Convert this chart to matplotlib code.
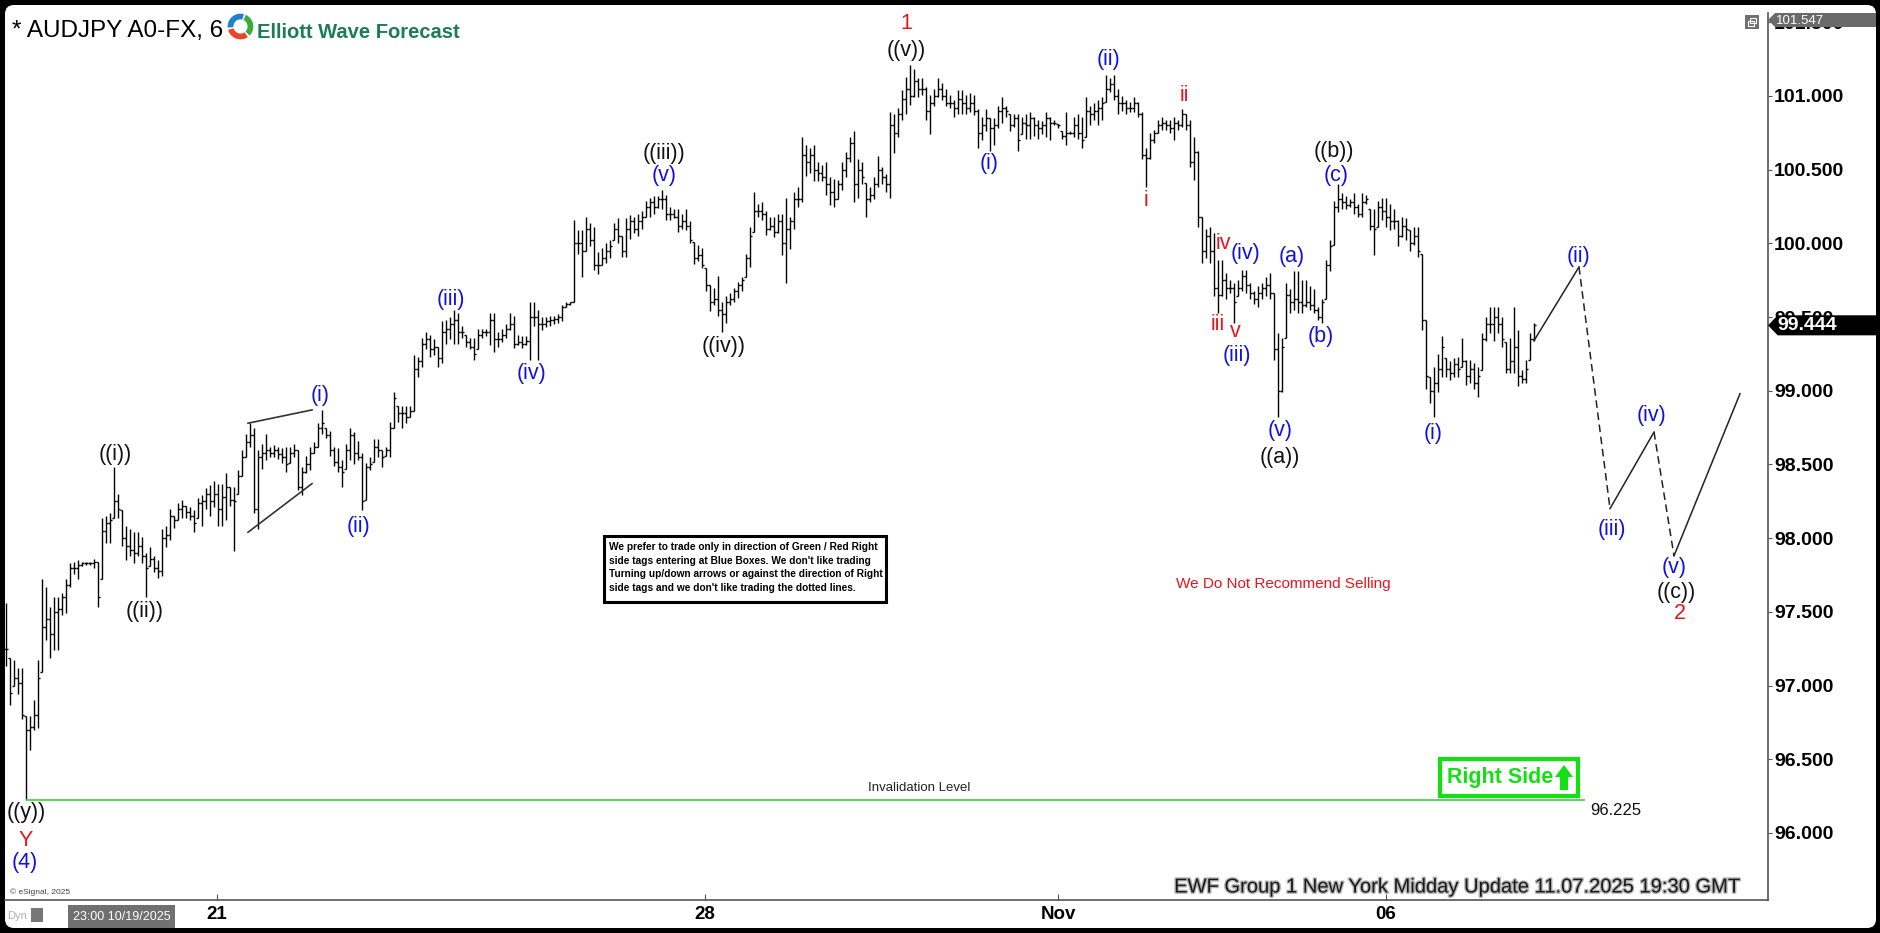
import numpy as np
import matplotlib
matplotlib.use("Agg")
import matplotlib.pyplot as plt
from matplotlib.patches import FancyBboxPatch, Rectangle, Polygon, Wedge
import matplotlib.patheffects as pe

plt.rcParams['font.family'] = ['Liberation Sans', 'DejaVu Sans']
NARROW = ['Liberation Sans Narrow', 'Liberation Sans', 'DejaVu Sans']

# AUDJPY 60 min bars (high / low / close)
highs = [
    97.56, 97.19, 97.17, 97.12, 97.12, 96.79, 96.79, 96.90, 97.17, 97.72,
    97.67, 97.53, 97.60, 97.60, 97.63, 97.72, 97.83, 97.84, 97.85, 97.84,
    97.84, 97.84, 97.86, 97.84, 98.14, 98.15, 98.17, 98.48, 98.30, 98.19,
    98.08, 98.06, 98.04, 98.04, 98.01, 97.90, 97.94, 97.88, 97.85, 98.06,
    98.08, 98.20, 98.15, 98.24, 98.26, 98.22, 98.21, 98.19, 98.27, 98.29,
    98.34, 98.36, 98.39, 98.37, 98.37, 98.44, 98.35, 98.35, 98.46, 98.60,
    98.71, 98.78, 98.75, 98.60, 98.64, 98.71, 98.62, 98.63, 98.62, 98.61,
    98.62, 98.62, 98.64, 98.60, 98.48, 98.56, 98.62, 98.65, 98.78, 98.87,
    98.75, 98.73, 98.62, 98.61, 98.53, 98.64, 98.75, 98.72, 98.66, 98.58,
    98.51, 98.55, 98.67, 98.67, 98.60, 98.62, 98.79, 98.99, 98.90, 98.90,
    98.90, 98.90, 99.24, 99.23, 99.36, 99.40, 99.38, 99.35, 99.30, 99.47,
    99.48, 99.50, 99.55, 99.53, 99.44, 99.38, 99.36, 99.36, 99.42, 99.42,
    99.42, 99.53, 99.53, 99.40, 99.42, 99.45, 99.53, 99.51, 99.38, 99.37,
    99.37, 99.60, 99.60, 99.55, 99.50, 99.50, 99.51, 99.51, 99.52, 99.58,
    99.60, 99.60, 100.16, 100.09, 100.09, 100.18, 100.14, 100.11, 99.94, 99.97,
    100.00, 100.02, 100.14, 100.17, 100.05, 100.17, 100.19, 100.18, 100.20, 100.22,
    100.29, 100.31, 100.32, 100.32, 100.36, 100.33, 100.25, 100.23, 100.23, 100.20,
    100.23, 100.15, 100.01, 99.99, 99.97, 99.83, 99.72, 99.70, 99.78, 99.60,
    99.64, 99.66, 99.70, 99.74, 99.77, 99.93, 100.11, 100.35, 100.27, 100.28,
    100.22, 100.18, 100.18, 100.20, 100.20, 100.31, 100.18, 100.35, 100.38, 100.72,
    100.67, 100.65, 100.67, 100.55, 100.53, 100.55, 100.45, 100.44, 100.43, 100.55,
    100.62, 100.72, 100.76, 100.57, 100.55, 100.41, 100.38, 100.45, 100.59, 100.52,
    100.47, 100.89, 100.88, 100.92, 101.04, 101.13, 101.21, 101.18, 101.12, 101.12,
    101.06, 101.01, 101.05, 101.12, 101.09, 101.05, 101.01, 100.97, 101.04, 101.04,
    101.01, 101.02, 101.01, 100.91, 100.86, 100.91, 100.85, 100.85, 100.93, 100.99,
    100.93, 100.88, 100.88, 100.88, 100.86, 100.88, 100.89, 100.86, 100.84, 100.83,
    100.89, 100.86, 100.84, 100.81, 100.76, 100.89, 100.76, 100.86, 100.88, 100.86,
    100.99, 100.93, 100.95, 100.97, 100.99, 101.14, 101.12, 101.14, 101.05, 101.00,
    100.97, 100.96, 100.99, 100.96, 100.89, 100.65, 100.75, 100.77, 100.84, 100.86,
    100.84, 100.84, 100.86, 100.84, 100.91, 100.88, 100.84, 100.72, 100.63, 100.18,
    100.10, 100.11, 100.07, 99.89, 99.89, 99.80, 99.75, 99.73, 99.75, 99.82,
    99.82, 99.73, 99.68, 99.71, 99.73, 99.77, 99.80, 99.66, 99.39, 99.36,
    99.73, 99.69, 99.81, 99.81, 99.75, 99.75, 99.71, 99.69, 99.57, 99.62,
    99.89, 100.02, 100.29, 100.40, 100.34, 100.32, 100.30, 100.34, 100.27, 100.34,
    100.33, 100.23, 100.23, 100.29, 100.31, 100.31, 100.27, 100.23, 100.16, 100.18,
    100.17, 100.09, 100.11, 100.11, 99.93, 99.48, 99.09, 99.16, 99.25, 99.37,
    99.22, 99.20, 99.22, 99.23, 99.36, 99.21, 99.21, 99.19, 99.16, 99.39,
    99.50, 99.57, 99.57, 99.57, 99.50, 99.33, 99.36, 99.57, 99.41, 99.14,
    99.21, 99.39, 99.46,
]
lows = [
    97.13, 96.87, 97.00, 96.94, 96.77, 96.225, 96.56, 96.70, 96.71, 97.09,
    97.31, 97.19, 97.24, 97.24, 97.48, 97.49, 97.67, 97.76, 97.72, 97.81,
    97.82, 97.82, 97.80, 97.53, 97.72, 97.97, 97.97, 98.14, 98.14, 97.95,
    97.85, 97.88, 97.83, 97.88, 97.83, 97.60, 97.81, 97.77, 97.73, 97.74,
    97.94, 97.99, 98.07, 98.12, 98.14, 98.14, 98.12, 98.04, 98.14, 98.08,
    98.20, 98.15, 98.21, 98.08, 98.08, 98.12, 98.22, 97.91, 98.30, 98.42,
    98.55, 98.62, 98.17, 98.06, 98.47, 98.53, 98.55, 98.55, 98.54, 98.51,
    98.45, 98.51, 98.55, 98.33, 98.29, 98.44, 98.46, 98.58, 98.62, 98.71,
    98.68, 98.56, 98.49, 98.45, 98.35, 98.47, 98.53, 98.50, 98.53, 98.19,
    98.26, 98.46, 98.52, 98.55, 98.48, 98.56, 98.55, 98.75, 98.79, 98.75,
    98.78, 98.82, 98.86, 99.09, 99.16, 99.28, 99.23, 99.24, 99.16, 99.19,
    99.32, 99.35, 99.32, 99.32, 99.36, 99.30, 99.28, 99.21, 99.28, 99.36,
    99.37, 99.31, 99.26, 99.30, 99.33, 99.36, 99.41, 99.29, 99.31, 99.29,
    99.31, 99.21, 99.44, 99.21, 99.41, 99.43, 99.44, 99.45, 99.46, 99.47,
    99.57, 99.58, 99.60, 99.93, 99.77, 99.95, 99.98, 99.82, 99.79, 99.85,
    99.87, 99.90, 100.02, 100.00, 99.91, 99.91, 100.03, 100.07, 100.05, 100.10,
    100.18, 100.18, 100.20, 100.24, 100.23, 100.16, 100.16, 100.17, 100.08, 100.10,
    100.09, 100.00, 99.86, 99.88, 99.83, 99.68, 99.54, 99.58, 99.51, 99.40,
    99.46, 99.58, 99.60, 99.63, 99.68, 99.77, 99.84, 100.08, 100.18, 100.16,
    100.06, 100.09, 100.04, 100.07, 99.92, 99.73, 99.96, 100.10, 100.25, 100.28,
    100.46, 100.48, 100.42, 100.42, 100.42, 100.33, 100.26, 100.25, 100.30, 100.36,
    100.45, 100.55, 100.28, 100.31, 100.40, 100.18, 100.28, 100.30, 100.38, 100.40,
    100.35, 100.31, 100.61, 100.72, 100.84, 100.88, 100.94, 100.99, 100.99, 101.01,
    100.84, 100.74, 100.93, 100.99, 100.97, 100.93, 100.92, 100.86, 100.88, 100.88,
    100.88, 100.89, 100.87, 100.65, 100.70, 100.76, 100.63, 100.67, 100.78, 100.82,
    100.86, 100.76, 100.79, 100.63, 100.74, 100.71, 100.71, 100.73, 100.71, 100.74,
    100.72, 100.70, 100.80, 100.78, 100.71, 100.67, 100.74, 100.72, 100.71, 100.65,
    100.72, 100.80, 100.84, 100.80, 100.84, 100.96, 101.03, 100.97, 100.88, 100.90,
    100.88, 100.89, 100.89, 100.86, 100.57, 100.38, 100.57, 100.68, 100.75, 100.77,
    100.77, 100.75, 100.70, 100.77, 100.79, 100.77, 100.52, 100.43, 100.11, 99.87,
    99.90, 99.87, 99.64, 99.53, 99.64, 99.62, 99.66, 99.46, 99.64, 99.68,
    99.66, 99.62, 99.59, 99.57, 99.62, 99.64, 99.62, 99.21, 98.82, 98.99,
    99.36, 99.53, 99.55, 99.53, 99.53, 99.57, 99.55, 99.53, 99.48, 99.46,
    99.62, 99.81, 99.99, 100.21, 100.23, 100.23, 100.25, 100.20, 100.18, 100.18,
    100.27, 100.09, 99.92, 100.11, 100.16, 100.11, 100.09, 100.10, 99.98, 100.04,
    100.02, 99.95, 99.99, 99.91, 99.41, 99.01, 98.92, 98.82, 98.99, 99.09,
    99.09, 99.07, 99.09, 99.09, 99.16, 99.04, 99.05, 99.01, 98.96, 99.14,
    99.34, 99.39, 99.34, 99.39, 99.30, 99.12, 99.12, 99.12, 99.03, 99.05,
    99.05, 99.21, 99.34,
]
closes = [
    97.25, 96.95, 97.05, 97.02, 96.80, 96.70, 96.72, 96.80, 97.05, 97.40,
    97.45, 97.35, 97.50, 97.52, 97.60, 97.68, 97.80, 97.80, 97.82, 97.83,
    97.83, 97.83, 97.84, 97.60, 98.05, 98.10, 98.12, 98.25, 98.20, 98.00,
    97.95, 97.92, 97.90, 97.95, 97.88, 97.80, 97.86, 97.80, 97.78, 98.00,
    98.02, 98.15, 98.12, 98.20, 98.22, 98.18, 98.15, 98.10, 98.24, 98.25,
    98.30, 98.25, 98.30, 98.20, 98.28, 98.35, 98.26, 98.25, 98.42, 98.55,
    98.65, 98.70, 98.20, 98.55, 98.58, 98.60, 98.58, 98.60, 98.57, 98.55,
    98.50, 98.58, 98.60, 98.35, 98.45, 98.50, 98.58, 98.62, 98.75, 98.78,
    98.70, 98.60, 98.52, 98.48, 98.45, 98.60, 98.70, 98.58, 98.55, 98.25,
    98.48, 98.50, 98.62, 98.60, 98.55, 98.60, 98.75, 98.95, 98.85, 98.85,
    98.82, 98.86, 99.15, 99.20, 99.32, 99.35, 99.28, 99.30, 99.22, 99.40,
    99.42, 99.45, 99.48, 99.40, 99.40, 99.33, 99.30, 99.25, 99.38, 99.40,
    99.40, 99.48, 99.35, 99.35, 99.38, 99.42, 99.45, 99.32, 99.33, 99.32,
    99.34, 99.50, 99.50, 99.45, 99.45, 99.47, 99.48, 99.49, 99.50, 99.57,
    99.59, 99.60, 100.00, 100.00, 99.95, 100.10, 100.02, 99.85, 99.85, 99.90,
    99.95, 99.98, 100.10, 100.05, 99.95, 100.10, 100.15, 100.10, 100.15, 100.18,
    100.25, 100.28, 100.25, 100.30, 100.30, 100.20, 100.20, 100.18, 100.12, 100.15,
    100.12, 100.02, 99.90, 99.92, 99.85, 99.72, 99.60, 99.62, 99.55, 99.52,
    99.60, 99.62, 99.68, 99.72, 99.75, 99.90, 100.05, 100.22, 100.22, 100.20,
    100.10, 100.12, 100.08, 100.15, 100.00, 100.10, 100.15, 100.30, 100.30, 100.60,
    100.55, 100.60, 100.50, 100.48, 100.45, 100.40, 100.35, 100.30, 100.40, 100.50,
    100.58, 100.68, 100.40, 100.50, 100.45, 100.30, 100.33, 100.40, 100.50, 100.45,
    100.40, 100.80, 100.75, 100.88, 100.98, 101.05, 101.00, 101.10, 101.05, 101.05,
    100.90, 100.95, 101.00, 101.05, 101.00, 100.95, 100.95, 100.92, 100.98, 100.95,
    100.92, 100.95, 100.90, 100.75, 100.80, 100.85, 100.78, 100.80, 100.90, 100.92,
    100.90, 100.80, 100.85, 100.70, 100.82, 100.80, 100.85, 100.80, 100.78, 100.80,
    100.85, 100.82, 100.82, 100.80, 100.73, 100.75, 100.75, 100.80, 100.75, 100.70,
    100.90, 100.88, 100.90, 100.92, 100.95, 101.05, 101.08, 101.00, 100.95, 100.95,
    100.92, 100.92, 100.95, 100.88, 100.60, 100.58, 100.70, 100.75, 100.80, 100.82,
    100.80, 100.78, 100.82, 100.80, 100.88, 100.80, 100.55, 100.62, 100.18, 99.95,
    100.05, 99.95, 99.70, 99.65, 99.75, 99.70, 99.70, 99.60, 99.70, 99.78,
    99.72, 99.66, 99.62, 99.66, 99.70, 99.72, 99.66, 99.28, 99.00, 99.30,
    99.65, 99.60, 99.62, 99.60, 99.58, 99.60, 99.58, 99.55, 99.50, 99.60,
    99.85, 99.98, 100.25, 100.30, 100.28, 100.26, 100.28, 100.25, 100.20, 100.28,
    100.30, 100.12, 100.10, 100.25, 100.22, 100.18, 100.15, 100.15, 100.05, 100.12,
    100.10, 100.00, 100.05, 99.95, 99.48, 99.10, 99.00, 99.05, 99.15, 99.30,
    99.15, 99.12, 99.18, 99.15, 99.20, 99.10, 99.15, 99.05, 99.10, 99.35,
    99.45, 99.45, 99.50, 99.45, 99.35, 99.15, 99.20, 99.30, 99.10, 99.08,
    99.15, 99.35, 99.444,
]
last_price = 99.444
top_price = 101.547

# x axis ticks (bar index)
tick_pos = [52.75, 174.75, 263, 345]
tick_labels = ['21', '28', 'Nov', '06']

# invalidation level
invalid_level = 96.225
invalid_x = [5.25, 394.5]

# contracting wedge lines drawn on the chart
wedge_x = [60.5, 76.5]
wedge_upper = [98.78, 98.87]
wedge_lower = [98.04, 98.37]

# projected path
proj_x = [382, 393.25, 401, 412, 417, 433.5]
proj_y = [99.34, 99.84, 98.20, 98.72, 97.88, 98.98]
proj_dashed = [False, True, False, True, False]

# wave labels (text, bar index, price)
black_labels = [('((v))', 225, 101.31), ('((iii))', 164.5, 100.61), ('((iv))', 179.5, 99.30),
                ('((i))', 27.25, 98.57), ('((ii))', 34.75, 97.50), ('((y))', 5, 96.14),
                ('((b))', 332, 100.62), ('((a))', 318.5, 98.55), ('((c))', 417.5, 97.63)]
blue_labels = [('(ii)', 275.75, 101.25), ('(i)', 245.75, 100.54), ('(v)', 164.5, 100.46),
               ('(iii)', 111.25, 99.62), ('(iv)', 131.5, 99.12), ('(i)', 78.5, 98.97),
               ('(ii)', 88.25, 98.08), ('(4)', 4.75, 95.80), ('(c)', 332.5, 100.46),
               ('(iv)', 310, 99.93), ('(a)', 321.5, 99.91), ('(iii)', 307.75, 99.24),
               ('(b)', 328.75, 99.37), ('(v)', 318.5, 98.73), ('(i)', 356.75, 98.71),
               ('(ii)', 393.25, 99.91), ('(iii)', 401.5, 98.06), ('(iv)', 411.25, 98.83),
               ('(v)', 417, 97.80)]
red_labels = [('1', 225, 101.49), ('ii', 294.5, 101.00), ('i', 285, 100.29),
              ('Y', 5, 95.95), ('iv', 304.25, 100.00), ('iii', 303, 99.45),
              ('v', 307.25, 99.40), ('2', 418.5, 97.49)]

W, H = 1881, 933
BLUE = '#1010e0'
RED = '#e8161c'
GREEN = '#14e014'

fig = plt.figure(figsize=(W / 100, H / 100), dpi=100, facecolor='black')

# white rounded panel
bg = fig.add_axes([0, 0, 1, 1], zorder=0)
bg.set_xlim(0, W)
bg.set_ylim(H, 0)
bg.axis('off')
bg.add_patch(FancyBboxPatch((5, 5), 1871, 923, boxstyle='round,pad=0,rounding_size=9',
                            fc='white', ec='none'))

# main price chart
ax = fig.add_axes([5 / W, 1 - 900 / H, 1763 / W, 887 / H], zorder=1)
ax.patch.set_alpha(0)
ax.set_xlim(-0.25, 440.5)
ax.set_ylim(95.545, 101.563)

n = min(len(highs), len(lows), len(closes))
hi = np.array(highs[:n])
lo = np.array(lows[:n])
cl = np.clip(np.array(closes[:n]), lo, hi)
op = np.clip(np.r_[cl[0], cl[:-1]], lo, hi)
x = np.arange(n)
ax.vlines(x, lo, hi, color='black', lw=1.0)
ax.hlines(op, x - 0.6, x, color='black', lw=1.0)
ax.hlines(cl, x, x + 0.6, color='black', lw=1.0)

ax.plot(invalid_x, [invalid_level, invalid_level], color='#46d846', lw=1.3)
ax.text(228.25, 96.305, 'Invalidation Level', ha='center', va='center', fontsize=9.5, color='#222222')
ax.text(396, 96.155, f'{invalid_level:.3f}', ha='left', va='center', fontsize=12, color='#111111')

ax.plot(wedge_x, wedge_upper, color='#333333', lw=1.2)
ax.plot(wedge_x, wedge_lower, color='#333333', lw=1.2)

for k in range(len(proj_x) - 1):
    ax.plot(proj_x[k:k + 2], proj_y[k:k + 2], color='#222222', lw=1.1,
            ls=(0, (5, 3)) if proj_dashed[k] else '-')

for t, xi, yi in black_labels:
    ax.text(xi, yi, t, color='#111111', fontsize=15.5, ha='center', va='center')
for t, xi, yi in blue_labels:
    ax.text(xi, yi, t, color=BLUE, fontsize=15.5, ha='center', va='center')
for t, xi, yi in red_labels:
    ax.text(xi, yi, t, color=RED, fontsize=15.5, ha='center', va='center')

for s in ['left', 'top']:
    ax.spines[s].set_visible(False)
for s in ['right', 'bottom']:
    ax.spines[s].set_color('#555555')
    ax.spines[s].set_linewidth(1.2)

yt = np.arange(96.0, 101.51, 0.5)
ax.yaxis.tick_right()
ax.set_yticks(yt)
ax.set_yticklabels([f'{v:.3f}' for v in yt], fontweight='bold', fontsize=14)
ax.tick_params(axis='y', direction='out', length=3, pad=1.5, color='#555555', labelcolor='black')
ax.set_xticks(tick_pos)
ax.set_xticklabels(tick_labels, fontweight='bold', fontsize=13.5, family=NARROW)
ax.tick_params(axis='x', direction='in', length=4, pad=4, color='#555555', labelcolor='black')

# last price tag
tr = ax.get_yaxis_transform()
ax.add_patch(Polygon([(1.0, last_price), (1.0055, last_price + 0.068), (1.0615, last_price + 0.068),
                      (1.0615, last_price - 0.068), (1.0055, last_price - 0.068)],
                     closed=True, fc='black', ec='none', transform=tr, clip_on=False, zorder=5))
ax.text(1.0051, last_price, f'{last_price:.3f}', transform=tr, color='white', fontsize=14,
        fontweight='bold', ha='left', va='center', zorder=6, clip_on=False)

# overlay for chart furniture
fg = fig.add_axes([0, 0, 1, 1], zorder=3)
fg.set_xlim(0, W)
fg.set_ylim(H, 0)
fg.axis('off')
fg.patch.set_alpha(0)

fg.add_patch(Polygon([(1768, 20), (1775, 13), (1876, 13), (1876, 27), (1775, 27)],
                     closed=True, fc='#6a6a6a', ec='none'))
fg.text(1776, 20.5, f'{top_price:.3f}', color='white', fontsize=9.5, ha='left', va='center')
fg.add_patch(Rectangle((1745, 15), 14, 14, fc='#707070', ec='none'))
fg.add_patch(Rectangle((1748, 21), 6, 5, fc='none', ec='white', lw=0.8))
fg.add_patch(Rectangle((1750, 18), 6, 5, fc='none', ec='white', lw=0.8))

fg.text(12, 37, '* AUDJPY A0-FX, 6', fontsize=17.5, color='black', ha='left', va='baseline')
lg = fig.add_axes([227 / W, 1 - 40 / H, 27 / W, 27 / H], zorder=4)
lg.set_xlim(-1.05, 1.05)
lg.set_ylim(-1.05, 1.05)
lg.axis('off')
lg.add_patch(Wedge((0, 0), 1.0, 75, 185, width=0.45, fc='#1f7fd0'))
lg.add_patch(Wedge((0, 0), 1.0, -45, 65, width=0.45, fc='#3cab3a'))
lg.add_patch(Wedge((0, 0), 1.0, 195, 305, width=0.45, fc='#e8452c'))
fg.add_patch(Rectangle((226, 14), 3, 26, fc='white', ec='none'))
fg.text(257, 38, 'Elliott Wave Forecast', fontsize=14.5, fontweight='bold', color='#1b7d56',
        ha='left', va='baseline')

fg.add_patch(Rectangle((604, 536), 282, 66, fc='white', ec='black', lw=2.2))
disclaimer = ["We prefer to trade only in direction of Green / Red Right",
              "side tags entering at Blue Boxes. We don't like trading",
              "Turning up/down arrows or against the direction of Right",
              "side tags and we don't like trading the dotted lines."]
for k, line in enumerate(disclaimer):
    fg.text(609, 547 + k * 13.7, line, fontsize=7.25, fontweight='bold', family=NARROW,
            ha='left', va='center', color='black')

fg.text(1283, 584, 'We Do Not Recommend Selling', color=RED, fontsize=11, ha='center', va='center')

fg.add_patch(Rectangle((1440, 759), 138, 37, fc='white', ec=GREEN, lw=3))
fg.text(1447, 778, 'Right Side', color=GREEN, fontsize=15.5, fontweight='bold', ha='left', va='center')
fg.add_patch(Polygon([(1564, 765), (1573, 777), (1568, 777), (1568, 790), (1560, 790),
                      (1560, 777), (1555, 777)], closed=True, fc=GREEN, ec='none'))

fg.text(1740, 887, 'EWF Group 1 New York Midday Update 11.07.2025 19:30 GMT', fontsize=14.5,
        color='#1a1a1a', ha='right', va='center',
        path_effects=[pe.withStroke(linewidth=2, foreground='#b5b5b5')])
fg.text(10, 892, '\u00a9 eSignal, 2025', fontsize=6, color='#444444', ha='left', va='center')

fg.text(7, 916, 'Dyn', fontsize=8, color='#b0b0b0', ha='left', va='center')
fg.add_patch(Rectangle((31, 908), 12, 14, fc='#777777', ec='none'))
fg.add_patch(Rectangle((68, 905), 107, 23, fc='#707070', ec='none'))
fg.text(121.5, 916.5, '23:00 10/19/2025', fontsize=9, color='white', family=NARROW,
        ha='center', va='center')

fig.savefig('out.png', dpi=100, facecolor='black')
